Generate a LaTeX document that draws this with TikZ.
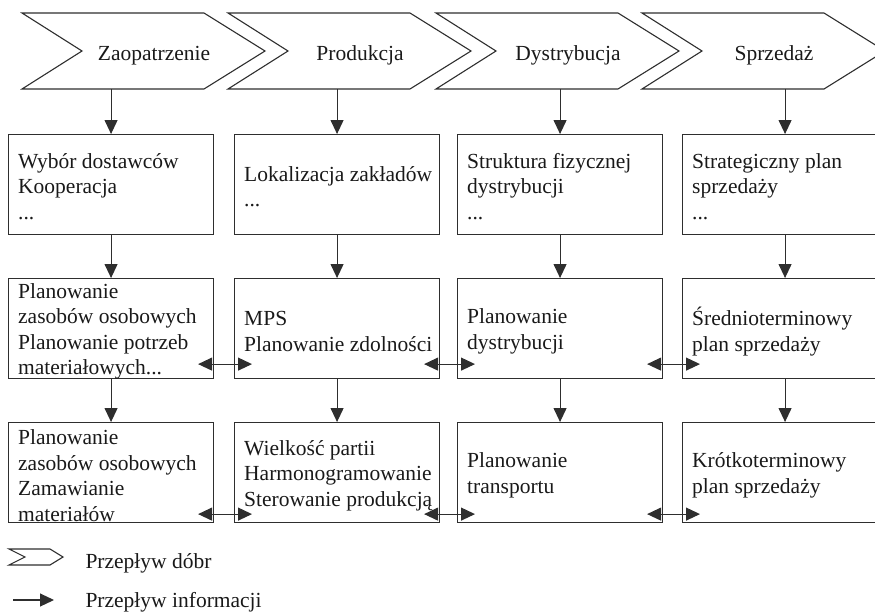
\documentclass[tikz,border=0pt]{standalone}
\usepackage{fontspec}
\setmainfont{Liberation Serif}
\usetikzlibrary{arrows.meta,calc}
\begin{document}
\begin{tikzpicture}[x=1pt,y=-1pt,
  ln/.style={draw=black!82, line width=1.1pt},
  tip/.tip={Triangle[length=14pt,width=13pt]},
  arr/.style={ln, -tip},
  dbl/.style={ln, tip-tip},
  txt/.style={font=\fontsize{21.5}{25.5}\selectfont, text=black!90},
  box/.style={ln, rectangle, anchor=north west, minimum width=205pt,
    minimum height=100pt, inner sep=0pt},
  btxt/.style={txt, anchor=west, align=left, inner sep=0pt},
  chev/.style={ln, line join=miter}
]
\useasboundingbox (0,0) rectangle (875,613);
\clip (0,0) rectangle (875,613);

% chevrons
\foreach \L/\n/\t in {22/1/Zaopatrzenie,228/2/Produkcja,436/3/Dystrybucja,642/4/Sprzedaż}{
  \draw[chev] (\L,13) -- ++(182,0) -- ++(61,38) -- ++(-61,38) -- (\L,89) -- ++(60,-38) -- cycle;
  \node[txt, anchor=base] (ch\n) at (\L+132,60) {\t};
}
\coordinate (cb) at (0,89);

% boxes
\foreach \r/\y in {1/134,2/278,3/422}{
  \foreach \c/\x in {1/8,2/234,3/457,4/682}{
    \node[box] (b\r\c) at (\x,\y) {};
  }
}
% row 1
\node[btxt] (t11) at ([xshift=10pt,yshift=-2pt]b11.west) {Wybór dostawców\\Kooperacja\\...};
\node[btxt] (t12) at ([xshift=10pt,yshift=-2pt]b12.west) {Lokalizacja zakładów\\...};
\node[btxt] (t13) at ([xshift=10pt,yshift=-2pt]b13.west) {Struktura fizycznej\\dystrybucji\\...};
\node[btxt] (t14) at ([xshift=10pt,yshift=-2pt]b14.west) {Strategiczny plan\\sprzedaży\\...};
% row 2
\node[btxt] (t21) at ([xshift=10pt,yshift=-3pt]b21.west) {Planowanie\\zasobów osobowych\\Planowanie potrzeb\\materiałowych...};
\node[btxt] (t22) at ([xshift=10pt,yshift=-3pt]b22.west) {MPS\\Planowanie zdolności};
\node[btxt] (t23) at ([xshift=10pt,yshift=-3pt]b23.west) {Planowanie\\dystrybucji};
\node[btxt] (t24) at ([xshift=10pt,yshift=-3pt]b24.west) {Średnioterminowy\\plan sprzedaży};
% row 3
\node[btxt] (t31) at ([xshift=10pt,yshift=-3pt]b31.west) {Planowanie\\zasobów osobowych\\Zamawianie\\materiałów};
\node[btxt] (t32) at ([xshift=10pt,yshift=-3pt]b32.west) {Wielkość partii\\Harmonogramowanie\\Sterowanie produkcją};
\node[btxt] (t33) at ([xshift=10pt,yshift=-3pt]b33.west) {Planowanie\\transportu};
\node[btxt] (t34) at ([xshift=10pt,yshift=-3pt]b34.west) {Krótkoterminowy\\plan sprzedaży};

% vertical arrows
\foreach \c in {1,2,3,4}{
  \draw[arr] (b1\c.north |- cb) -- (b1\c.north);
  \draw[arr] (b1\c.south) -- (b2\c.north);
  \draw[arr] (b2\c.south) -- (b3\c.north);
}

% horizontal double arrows
\foreach \a/\b in {1/2,2/3,3/4}{
  \draw[dbl] ([xshift=-16pt,yshift=15pt]b2\a.south east) -- ([xshift=18pt,yshift=15pt]b2\b.south west);
  \draw[dbl] ([xshift=-16pt,yshift=9pt]b3\a.south east) -- ([xshift=18pt,yshift=9pt]b3\b.south west);
}

% legend
\draw[chev] (9,549) -- (50,549) -- (63,557) -- (50,565) -- (9,565) -- (25,557) -- cycle;
\node[txt, anchor=base west] (l1) at (82,568) {Przepływ dóbr};
\coordinate (la) at (13,600);
\draw[arr] (la) -- ++(41,0);
\node[txt, anchor=base west] (l2) at (82,607) {Przepływ informacji};
\end{tikzpicture}
\end{document}
